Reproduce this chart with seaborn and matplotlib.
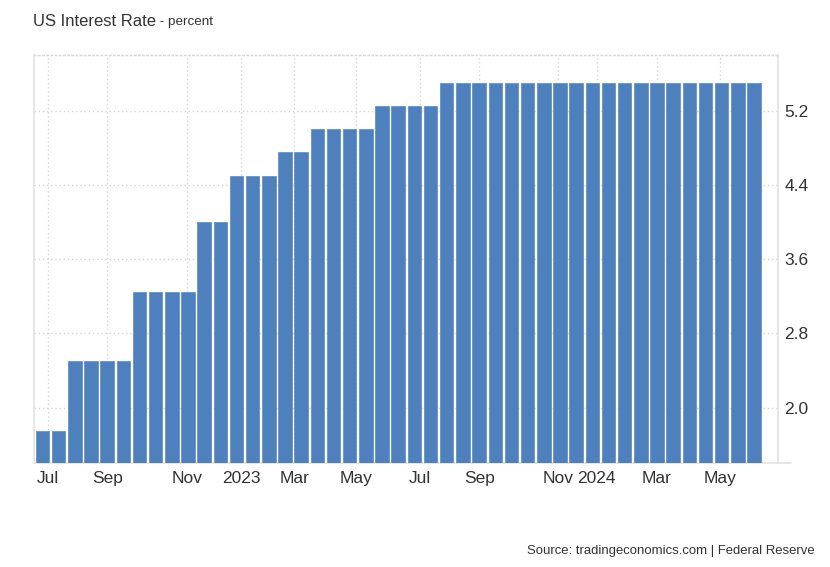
import matplotlib
matplotlib.use("Agg")
import matplotlib.pyplot as plt
import seaborn as sns
import pandas as pd

# ---- data ----
rate_values = (
    [1.75] * 2 + [2.50] * 4 + [3.25] * 4 + [4.00] * 2 + [4.50] * 3 +
    [4.75] * 2 + [5.00] * 4 + [5.25] * 4 + [5.50] * 20
)
bar_index = list(range(len(rate_values)))

tick_labels = ["Jul", "Sep", "Nov", "2023", "Mar", "May", "Jul", "Sep",
               "Nov", "2024", "Mar", "May"]
tick_positions = [0.32, 4.01, 8.96, 12.28, 15.56, 19.39, 23.35, 27.02,
                  31.86, 34.28, 37.99, 41.9]
y_ticks = [2.0, 2.8, 3.6, 4.4, 5.2]

title_main = "US Interest Rate"
title_unit = " - percent"
source_text = "Source: tradingeconomics.com | Federal Reserve"

# ---- figure ----
sns.set_theme(style="white")
plt.rcParams["font.family"] = ["Liberation Sans", "DejaVu Sans"]

W, H = 830, 567
fig = plt.figure(figsize=(W / 100, H / 100), dpi=100)
left, right, top, bottom = 34, 778.3, 55, 463.3
ax = fig.add_axes([left / W, 1 - bottom / H, (right - left) / W, (bottom - top) / H])

df = pd.DataFrame({"idx": bar_index, "rate": rate_values})
sns.barplot(data=df, x="idx", y="rate", color="#4e80bd", saturation=1,
            width=0.835, edgecolor="#6892c8", linewidth=0.6, ax=ax, zorder=3)

ax.set_xlim(-0.52, 45.5)
ax.set_ylim(1.4, 5.8)

ax.set_xticks(tick_positions)
ax.set_xticklabels(tick_labels)
ax.set_yticks(y_ticks)
ax.set_yticklabels([f"{v:.1f}" for v in y_ticks])
ax.yaxis.tick_right()
ax.tick_params(axis="both", length=0, labelsize=12.5, colors="#333333")
ax.tick_params(axis="x", pad=5.5)
ax.tick_params(axis="y", pad=4.5)
ax.set_xlabel("")
ax.set_ylabel("")

ax.set_axisbelow(True)
ax.grid(True, linestyle=(0, (1, 2)), color="#d6d6d6", linewidth=1)

for s in ["left", "right", "bottom"]:
    ax.spines[s].set_visible(True)
    ax.spines[s].set_color("#e3e3e3")
    ax.spines[s].set_linewidth(1.2)
ax.spines["top"].set_visible(True)
ax.spines["top"].set_color("#d6d6d6")
ax.spines["top"].set_linestyle((0, (1, 2)))
ax.spines["top"].set_linewidth(1)

# bottom line extends a little past the right axis
ext = (790.7 - left) / (right - left)
ax.plot([1, ext], [0, 0], transform=ax.transAxes, color="#e3e3e3",
        linewidth=1.2, clip_on=False)

# titles
fig.text(33 / W, 1 - 21 / H, title_main, fontsize=12, color="#333333",
         va="center", ha="left")
t = fig.text(33 / W, 1 - 21 / H, title_main, fontsize=12, alpha=0, va="center")
fig.canvas.draw()
bb = t.get_window_extent()
fig.text(bb.x1 / W, 1 - 22 / H, title_unit, fontsize=9.7, color="#333333",
         va="center", ha="left")

fig.text(815 / W, 1 - 551 / H, source_text, fontsize=9.45, color="#333333",
         ha="right", va="center")

fig.savefig("out.png", dpi=100)
